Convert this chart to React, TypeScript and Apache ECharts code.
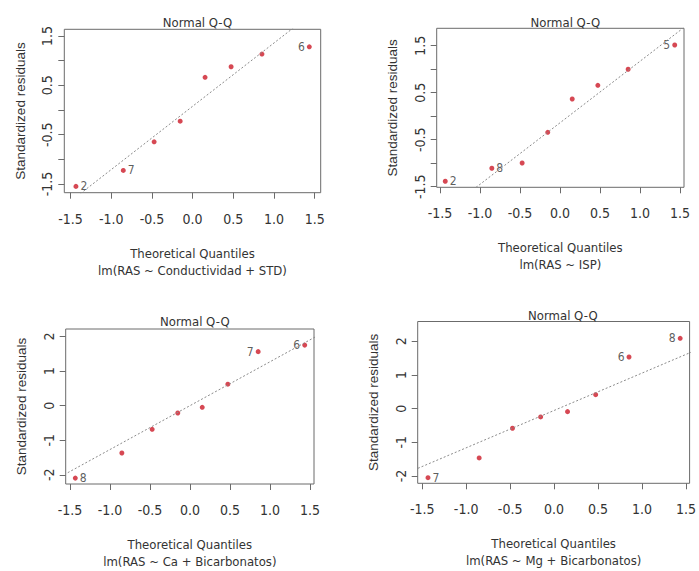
import React, { useEffect, useRef } from "react";
import * as echarts from "echarts";

// Theoretical quantiles (n = 8)
const theoQ = [-1.434, -0.852, -0.473, -0.153, 0.153, 0.473, 0.852, 1.434];

// Standardized residuals (sorted) per panel
const p1Resid = [-1.548, -1.225, -0.645, -0.227, 0.662, 0.876, 1.133, 1.28];
const p2Resid = [-1.385, -1.108, -0.996, -0.343, 0.366, 0.657, 0.998, 1.515];
const p3Resid = [-2.096, -1.37, -0.684, -0.212, -0.048, 0.621, 1.562, 1.751];
const p4Resid = [-2.05, -1.463, -0.582, -0.246, -0.089, 0.415, 1.534, 2.089];

// Point labels (observation ids), "" = no label
const p1Labels = ["2", "7", "", "", "", "", "", "6"];
const p2Labels = ["2", "8", "", "", "", "", "", "5"];
const p3Labels = ["8", "", "", "", "", "", "7", "6"];
const p4Labels = ["7", "", "", "", "", "", "6", "8"];

const subtitles = [
  "lm(RAS ~ Conductividad + STD)",
  "lm(RAS ~ ISP)",
  "lm(RAS ~ Ca + Bicarbonatos)",
  "lm(RAS ~ Mg + Bicarbonatos)",
];
const titleText = "Normal Q-Q";
const xName = "Theoretical Quantiles";
const yName = "Standardized residuals";

const xTicks = [-1.5, -1.0, -0.5, 0.0, 0.5, 1.0, 1.5];
const yTicksHalf = [-1.5, -1.0, -0.5, 0.0, 0.5, 1.0, 1.5];
const yLabelsHalf = [-1.5, -0.5, 0.5, 1.5];
const yTicksInt = [-2, -1, 0, 1, 2];

const NARROW = "'Liberation Sans Narrow','Arial Narrow','DejaVu Sans Condensed',sans-serif";
const REG = "'Liberation Sans',Arial,sans-serif";

type Panel = {
  resid: number[];
  labels: string[];
  grid: { left: number; top: number; width: number; height: number };
  xr: [number, number];
  yr: [number, number];
  yTicks: number[];
  yLabels: number[];
  yDigits: number;
  titleY: number;
};

const panels: Panel[] = [
  { resid: p1Resid, labels: p1Labels, grid: { left: 64.3, top: 29.3, width: 256.4, height: 163.4 }, xr: [-1.577, 1.574], yr: [-1.676, 1.635], yTicks: yTicksHalf, yLabels: yLabelsHalf, yDigits: 1, titleY: 11 },
  { resid: p2Resid, labels: p2Labels, grid: { left: 436.7, top: 28.3, width: 247.3, height: 159 }, xr: [-1.541, 1.55], yr: [-1.513, 1.87], yTicks: yTicksHalf, yLabels: yLabelsHalf, yDigits: 1, titleY: 10.5 },
  { resid: p3Resid, labels: p3Labels, grid: { left: 65.7, top: 329, width: 248.3, height: 158.7 }, xr: [-1.554, 1.55], yr: [-2.266, 2.217], yTicks: yTicksInt, yLabels: yTicksInt, yDigits: 0, titleY: 309.5 },
  { resid: p4Resid, labels: p4Labels, grid: { left: 417.7, top: 321.5, width: 280.3, height: 161.8 }, xr: [-1.551, 1.541], yr: [-2.217, 2.588], yTicks: yTicksInt, yLabels: yTicksInt, yDigits: 0, titleY: 303.5 },
];

function quantile7(sorted: number[], p: number) {
  const h = (sorted.length - 1) * p;
  const lo = Math.floor(h);
  return sorted[lo] + (h - lo) * (sorted[Math.min(lo + 1, sorted.length - 1)] - sorted[lo]);
}

function qqLine(resid: number[], xr: [number, number]) {
  const s = [...resid].sort((a, b) => a - b);
  const y1 = quantile7(s, 0.25);
  const y2 = quantile7(s, 0.75);
  const z = 0.6744898;
  const slope = (y2 - y1) / (2 * z);
  const inter = (y1 + y2) / 2;
  const x0 = xr[0] - 0.5;
  const x1 = xr[1] + 0.5;
  return [
    [x0, inter + slope * x0],
    [x1, inter + slope * x1],
  ];
}

export default function App() {
  const ref = useRef<HTMLDivElement>(null);
  useEffect(() => {
    document.body.style.margin = "0";
    const chart = echarts.init(ref.current!, undefined, { renderer: "svg" });
    const grid: any[] = [];
    const xAxis: any[] = [];
    const yAxis: any[] = [];
    const series: any[] = [];
    const title: any[] = [];
    panels.forEach((p, i) => {
      grid.push({ ...p.grid, show: true, borderColor: "#6b6b6b", borderWidth: 1, backgroundColor: "transparent", containLabel: false });
      title.push({
        text: titleText,
        left: p.grid.left + p.grid.width / 2,
        top: p.titleY,
        textAlign: "center",
        textStyle: { fontFamily: NARROW, fontSize: 13, fontWeight: "normal", color: "#333" },
      });
      xAxis.push({
        type: "value",
        gridIndex: i,
        position: "bottom",
        min: p.xr[0],
        max: p.xr[1],
        splitLine: { show: false },
        axisLine: { show: false, onZero: false },
        axisTick: { show: true, length: 6, lineStyle: { color: "#6b6b6b" }, customValues: xTicks },
        axisLabel: { show: true, margin: 19, fontFamily: NARROW, fontSize: 14, color: "#333", customValues: xTicks, formatter: (v: number) => v.toFixed(1) },
        name: xName + "\n" + subtitles[i],
        nameLocation: "middle",
        nameGap: 52,
        nameTextStyle: { fontFamily: NARROW, fontSize: 13, color: "#333", lineHeight: 17 },
      });
      yAxis.push({
        type: "value",
        gridIndex: i,
        position: "left",
        min: p.yr[0],
        max: p.yr[1],
        splitLine: { show: false },
        axisLine: { show: false, onZero: false },
        axisTick: { show: true, length: 6, lineStyle: { color: "#6b6b6b" }, customValues: p.yTicks },
        axisLabel: { show: true, margin: 10, rotate: 90, fontFamily: NARROW, fontSize: 14, color: "#333", customValues: p.yLabels, formatter: (v: number) => v.toFixed(p.yDigits) },
        name: yName,
        nameLocation: "middle",
        nameGap: 37,
        nameRotate: 90,
        nameTextStyle: { fontFamily: REG, fontSize: 13.5, color: "#333" },
      });
      series.push({
        type: "line",
        xAxisIndex: i,
        yAxisIndex: i,
        data: qqLine(p.resid, p.xr),
        symbol: "none",
        clip: true,
        silent: true,
        lineStyle: { color: "#8a8a8a", width: 1, type: [2, 2] },
      });
      series.push({
        type: "scatter",
        xAxisIndex: i,
        yAxisIndex: i,
        symbol: "circle",
        symbolSize: 5,
        itemStyle: { color: "#cc1a28" },
        data: p.resid.map((r, k) => {
          const lab = p.labels[k];
          const left = theoQ[k] > 0;
          return {
            value: [theoQ[k], r],
            label: lab
              ? { show: true, formatter: lab, position: left ? "left" : "right", distance: 2, fontFamily: NARROW, fontSize: 12, color: "#333" }
              : { show: false },
          };
        }),
      });
    });
    chart.setOption({ animation: false, backgroundColor: "#ffffff", title, grid, xAxis, yAxis, series });
    return () => chart.dispose();
  }, []);
  return <div ref={ref} style={{ width: 699, height: 571 }} />;
}
